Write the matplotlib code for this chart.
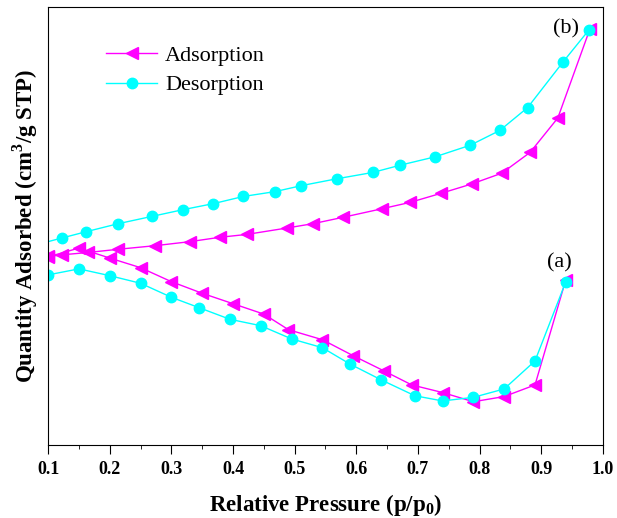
import matplotlib.pyplot as plt
import numpy as np

plt.rcParams['font.family'] = 'Liberation Serif'
plt.rcParams['mathtext.fontset'] = 'custom'
plt.rcParams['mathtext.rm'] = 'Liberation Serif'
plt.rcParams['mathtext.bf'] = 'Liberation Serif:bold'

# sample (a)
a_ads_x = [0.10, 0.15, 0.20, 0.25, 0.30, 0.35, 0.40, 0.45, 0.49, 0.545, 0.595, 0.645, 0.69, 0.74, 0.79, 0.84, 0.89, 0.94]
a_ads_y = [47.0, 49.2, 46.7, 44.3, 40.8, 37.9, 35.3, 32.7, 28.8, 26.3, 22.3, 18.5, 15.0, 13.1, 10.8, 12.1, 15.0, 41.3]
a_des_x = [0.10, 0.15, 0.20, 0.25, 0.30, 0.345, 0.395, 0.445, 0.495, 0.545, 0.59, 0.64, 0.695, 0.74, 0.79, 0.84, 0.89, 0.94]
a_des_y = [42.5, 44.0, 42.3, 40.4, 36.9, 34.3, 31.4, 29.8, 26.5, 24.3, 20.2, 16.3, 12.3, 11.0, 11.9, 14.0, 21.0, 40.8]

# sample (b)
b_ads_x = [0.10, 0.122, 0.165, 0.214, 0.274, 0.33, 0.379, 0.422, 0.487, 0.53, 0.579, 0.641, 0.687, 0.738, 0.787, 0.836, 0.882, 0.927, 0.979]
b_ads_y = [47.1, 47.5, 48.1, 48.9, 49.8, 50.8, 51.9, 52.6, 54.2, 55.3, 56.9, 59.0, 60.6, 62.9, 65.2, 67.9, 73.1, 81.7, 103.9]
b_des_x = [0.08, 0.122, 0.162, 0.214, 0.268, 0.319, 0.368, 0.417, 0.468, 0.511, 0.568, 0.627, 0.671, 0.728, 0.785, 0.833, 0.878, 0.936, 0.978]
b_des_y = [50.0, 51.7, 53.3, 55.3, 57.1, 58.8, 60.3, 62.1, 63.3, 64.8, 66.5, 68.1, 69.9, 72.0, 74.9, 78.6, 84.3, 95.8, 103.8]

fig = plt.figure(figsize=(6.17, 5.18), dpi=100)
ax = fig.add_axes([0.078, 0.141, 0.899, 0.846])

ax.plot(a_ads_x, a_ads_y, color='magenta', marker='<', ms=9, lw=1, label='Adsorption')
ax.plot(a_des_x, a_des_y, color='cyan', marker='o', ms=7.5, lw=1, label='Desorption')
ax.plot(b_ads_x, b_ads_y, color='magenta', marker='<', ms=9, lw=1)
ax.plot(b_des_x, b_des_y, color='cyan', marker='o', ms=7.5, lw=1)

ax.text(0.929, 45.5, '(a)', fontsize=16, ha='center', va='center')
ax.text(0.941, 104, '(b)', fontsize=16, ha='center', va='center')

ax.set_xlim(0.1, 1.0)
ax.set_ylim(0, 109.5)
ax.set_xticks(np.arange(0.1, 1.01, 0.1))
ax.set_xticks(np.arange(0.15, 1.0, 0.1), minor=True)
ax.set_xticklabels(['%.1f' % v for v in np.arange(0.1, 1.01, 0.1)], fontsize=13, fontweight='bold')
ax.set_yticks([])
ax.tick_params(axis='x', which='major', direction='out', length=6.5, pad=5)
ax.tick_params(axis='x', which='minor', direction='out', length=3)

ax.set_xlabel(r'Relative Pressure (p/p$_\mathbf{0}$)', fontsize=16.5, fontweight='bold', labelpad=10)
ax.set_ylabel(r'Quantity Adsorbed (cm$^\mathbf{3}$/g STP)', fontsize=16.5, fontweight='bold', labelpad=6)

ax.legend(loc='upper left', bbox_to_anchor=(0.1045, 0.912), frameon=False, fontsize=16,
          handlelength=2.3, handletextpad=0.35, labelspacing=0.4, borderpad=0, borderaxespad=0)

plt.savefig('out.png', dpi=100)
